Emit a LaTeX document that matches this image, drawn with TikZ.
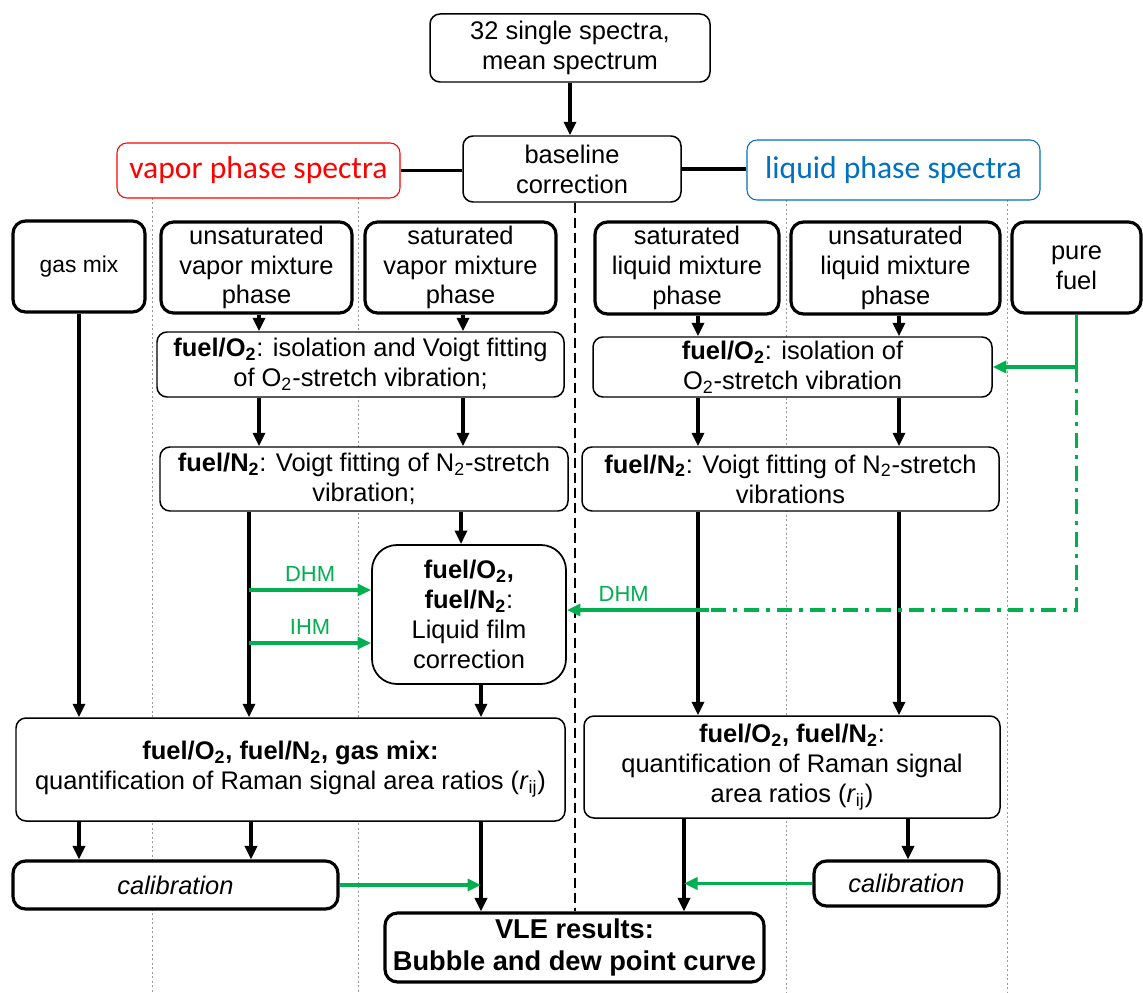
\documentclass[tikz,border=0pt]{standalone}
\usepackage{fontspec}
\setmainfont{Liberation Sans}
\newfontfamily\carlito{Carlito}
\usetikzlibrary{arrows.meta}
\definecolor{ggreen}{RGB}{0,176,80}
\definecolor{lblue}{RGB}{0,112,192}

\begin{document}
    \begin{tikzpicture}[
        x                       = 0.02cm,
        y                       = -0.02cm,
        font                    = \fontsize{14.5}{17}\selectfont,
        every node/.style       = {align=center, inner sep=1pt},
        boxsize/.style 2 args   = {minimum width=#1*0.02cm, minimum height=#2*0.02cm},
        thinbox/.style          = {draw, fill=white, rounded corners=0.2cm, line width=0.85pt},
        thickbox/.style         = {draw, fill=white, rounded corners=0.25cm, line width=1.8pt},
        arrowlink/.style        = {-{Triangle[length=0.27cm, width=0.24cm]}, line width=1.9pt},
        green link/.style       = {arrowlink, ggreen},
        grid line/.style        = {gray!80, line width=0.5pt, dash pattern=on 0.04cm off 0.05cm},
        %sloped
      ]
        \useasboundingbox (0,0) rectangle (1143,993);

        % column guides
        \foreach \gx in {152, 358}
            \draw[grid line] (\gx,198) -- (\gx,993);
        \foreach \gx in {786, 1007}
            \draw[grid line] (\gx,200) -- (\gx,993);

        % columns and rows for the connectors
        \coordinate (colA) at (259,0);
        \coordinate (colB) at (463,0);
        \coordinate (colC) at (249,0);
        \coordinate (colD) at (461,0);
        \coordinate (colE) at (481,0);
        \coordinate (colF) at (251,0);
        \coordinate (colG) at (79,0);
        \coordinate (colH) at (698,0);
        \coordinate (colI) at (899,0);
        \coordinate (colJ) at (684,0);
        \coordinate (colK) at (908,0);
        \coordinate (mid)  at (575,0);
        \coordinate (dhmrow) at (0,590);
        \coordinate (ihmrow) at (0,643);

        \node[thinbox, boxsize={280}{68}] (spectra) at (570,48) {32 single spectra,\\mean spectrum};
        \node[thinbox, boxsize={218}{66}] (baseline) at (572,169) {baseline\\correction};
        \node[thinbox, draw=red, text=red, line width=0.6pt, boxsize={283}{55},
              font=\carlito\fontsize{18}{21}\selectfont] (vapor) at (258.5,170.5) {vapor phase spectra};
        \node[thinbox, draw=lblue, text=lblue, line width=0.6pt, boxsize={293}{60},
              font=\carlito\fontsize{18}{21}\selectfont] (liquid) at (893.5,170) {liquid phase spectra};

        \node[thickbox, boxsize={132}{91}, font=\fontsize{13}{16}\selectfont] (gasmix) at (79,266.5) {gas mix};
        \node[thickbox, boxsize={191}{91}] (unsatvap) at (256.5,267.5) {unsaturated\\vapor mixture\\phase};
        \node[thickbox, boxsize={191}{91}] (satvap) at (460.5,267.5) {saturated\\vapor mixture\\phase};
        \node[thickbox, boxsize={184}{92}] (satliq) at (687,268) {saturated\\liquid mixture\\phase};
        \node[thickbox, boxsize={209}{92}] (unsatliq) at (895.5,268) {unsaturated\\liquid mixture\\phase};
        \node[thickbox, boxsize={129}{91}] (purefuel) at (1076.5,267.5) {pure\\fuel};

        \node[thinbox, boxsize={407}{65}] (otwovap) at (360.5,364.5)
            {\textbf{fuel/O\textsubscript{2}}: isolation and Voigt fitting\\of O\textsubscript{2}-stretch vibration;};
        \node[thinbox, boxsize={399}{60}] (otwoliq) at (792.5,367)
            {\textbf{fuel/O\textsubscript{2}}: isolation of\\O\textsubscript{2}-stretch vibration};
        \node[thinbox, boxsize={408}{64}] (ntwovap) at (364,479)
            {\textbf{fuel/N\textsubscript{2}}: Voigt fitting of N\textsubscript{2}-stretch\\vibration;};
        \node[thinbox, boxsize={417}{64}] (ntwoliq) at (790.5,479)
            {\textbf{fuel/N\textsubscript{2}}: Voigt fitting of N\textsubscript{2}-stretch\\vibrations};
        \node[thinbox, rounded corners=0.5cm, line width=1pt, boxsize={194}{139}] (film) at (469,614.5)
            {\textbf{fuel/O\textsubscript{2},}\\\textbf{fuel/N\textsubscript{2}}:\\Liquid film\\correction};

        \node[thinbox, boxsize={549}{103}] (quantvap) at (290.5,769.5)
            {\textbf{fuel/O\textsubscript{2}, fuel/N\textsubscript{2}, gas mix:}\\quantification of Raman signal area ratios (\textit{r}\textsubscript{ij})};
        \node[thinbox, boxsize={416}{102}] (quantliq) at (792,767)
            {\textbf{fuel/O\textsubscript{2}, fuel/N\textsubscript{2}}:\\quantification of Raman signal\\area ratios (\textit{r}\textsubscript{ij})};

        \node[thickbox, boxsize={325}{48}] (calvap) at (175.5,885) {\textit{calibration}};
        \node[thickbox, boxsize={185}{45}] (calliq) at (906.5,883.5) {\textit{calibration}};
        \node[thickbox, boxsize={379}{69}, font=\fontsize{15.5}{18.5}\selectfont] (vle) at (574.5,947.5)
            {\textbf{VLE results:}\\\textbf{Bubble and dew point curve}};

        % top part
        \draw[arrowlink] (spectra.south) -- (spectra.south |- baseline.north);
        \draw[line width=1.9pt] (vapor.east) -- (vapor.east -| baseline.west);
        \draw[line width=1.9pt] (baseline.east) -- (baseline.east -| liquid.west);
        \draw[line width=1.2pt, dash pattern=on 0.2cm off 0.1cm] (baseline.south -| mid) -- (vle.north -| mid);

        % vapor side
        \draw[arrowlink] (colG |- gasmix.south) -- (colG |- quantvap.north);
        \draw[arrowlink] (colA |- unsatvap.south) -- (colA |- otwovap.north);
        \draw[arrowlink] (colB |- satvap.south) -- (colB |- otwovap.north);
        \draw[arrowlink] (colA |- otwovap.south) -- (colA |- ntwovap.north);
        \draw[arrowlink] (colB |- otwovap.south) -- (colB |- ntwovap.north);
        \draw[arrowlink] (colC |- ntwovap.south) -- (colC |- quantvap.north);
        \draw[arrowlink] (colD |- ntwovap.south) -- (colD |- film.north);
        \draw[arrowlink] (colE |- film.south) -- (colE |- quantvap.north);
        \draw[green link] (colC |- dhmrow) -- node[above=3pt, font=\fontsize{12.5}{14}\selectfont] {DHM} (film.west |- dhmrow);
        \draw[green link] (colC |- ihmrow) -- node[above=3pt, font=\fontsize{12.5}{14}\selectfont] {IHM} (film.west |- ihmrow);
        \draw[arrowlink] (colG |- quantvap.south) -- (colG |- calvap.north);
        \draw[arrowlink] (colF |- quantvap.south) -- (colF |- calvap.north);
        \draw[arrowlink] (colE |- quantvap.south) -- (colE |- vle.north);
        \draw[green link] (calvap.east) -- (calvap.east -| colE);

        % liquid side
        \draw[arrowlink] (colH |- satliq.south) -- (colH |- otwoliq.north);
        \draw[arrowlink] (colI |- unsatliq.south) -- (colI |- otwoliq.north);
        \draw[arrowlink] (colH |- otwoliq.south) -- (colH |- ntwoliq.north);
        \draw[arrowlink] (colI |- otwoliq.south) -- (colI |- ntwoliq.north);
        \draw[arrowlink] (colH |- ntwoliq.south) -- (colH |- quantliq.north);
        \draw[arrowlink] (colI |- ntwoliq.south) -- (colI |- quantliq.north);
        \draw[arrowlink] (colK |- quantliq.south) -- (colK |- calliq.north);
        \draw[arrowlink] (colJ |- quantliq.south) -- (colJ |- vle.north);
        \draw[green link] (calliq.west) -- (calliq.west -| colJ);

        % pure fuel
        \coordinate (fuelsplit) at (purefuel.south |- otwoliq.east);
        \coordinate (dhmcorner) at (1076.5,610);
        \coordinate (dhmjoin) at (709,610);
        \draw[ggreen, line width=1.9pt] (purefuel.south) -- (fuelsplit);
        \draw[green link] (fuelsplit) -- (otwoliq.east);
        \draw[ggreen, line width=1.9pt, dash pattern=on 0.3cm off 0.14cm on 0.08cm off 0.14cm]
            (fuelsplit) -- (dhmcorner) -- (dhmjoin);
        \draw[green link] (dhmjoin) -- node[above=3pt, pos=0.6, font=\fontsize{12.5}{14}\selectfont] {DHM} (film.east |- dhmjoin);
    \end{tikzpicture}
\end{document}
